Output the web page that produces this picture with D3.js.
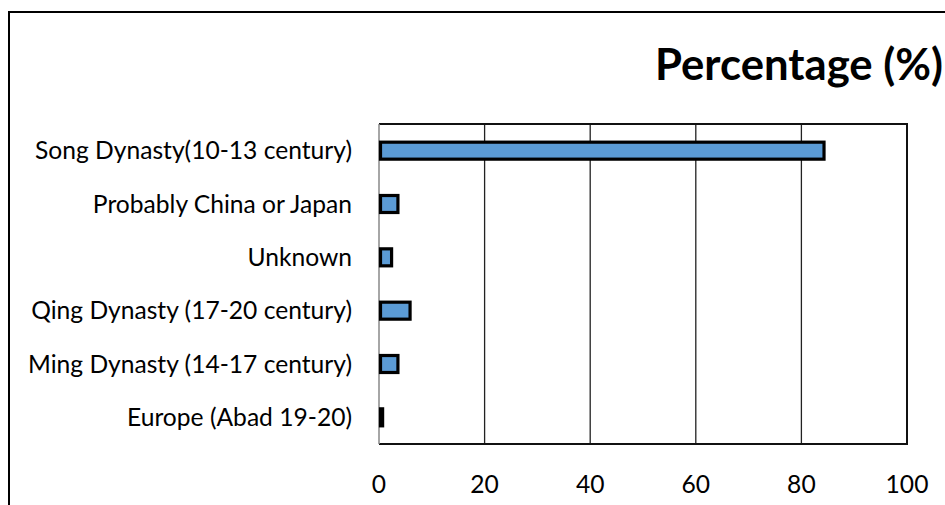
<!DOCTYPE html>
<html>
<script src="https://d3js.org/d3.v7.min.js"></script>
<style>
    body { margin: 0; background: #fff; }
    text { font-family: Lato, "Open Sans", sans-serif; fill: #000; }
</style>
<body>
<div id="chart"></div>
<script>
    // data (top to bottom)
    const categories = [
        "Song Dynasty(10-13 century)",
        "Probably China or Japan",
        "Unknown",
        "Qing Dynasty (17-20 century)",
        "Ming Dynasty (14-17 century)",
        "Europe (Abad 19-20)"
    ];
    const values = [84, 3.3, 2.1, 5.6, 3.3, 0.4];
    const xTicks = [0, 20, 40, 60, 80, 100];
    const title = "Percentage (%)";

    const width = 945, height = 505;
    const plot = { left: 379, right: 907, top: 124, bottom: 444 };

    const svg = d3.select("#chart").append("svg")
        .attr("width", width)
        .attr("height", height);

    // outer frame (cut off at right and bottom)
    svg.append("rect")
        .attr("x", 9).attr("y", 12)
        .attr("width", 980).attr("height", 520)
        .attr("fill", "none")
        .attr("stroke", "#000")
        .attr("stroke-width", 2);

    const x = d3.scaleLinear().domain([0, 100]).range([plot.left, plot.right]);
    const y = d3.scaleBand().domain(categories).range([plot.top, plot.bottom]);

    // vertical gridlines
    svg.append("g")
        .selectAll("line")
        .data(xTicks.slice(1, -1))
        .join("line")
        .attr("x1", d => x(d)).attr("x2", d => x(d))
        .attr("y1", plot.top).attr("y2", plot.bottom)
        .attr("stroke", "#222")
        .attr("stroke-width", 1.3);

    // plot border
    svg.append("path")
        .attr("d", `M${plot.left},${plot.top}H${plot.right}V${plot.bottom}H${plot.left}`)
        .attr("fill", "none")
        .attr("stroke", "#111")
        .attr("stroke-width", 2);
    svg.append("line")
        .attr("x1", plot.left).attr("x2", plot.left)
        .attr("y1", plot.top).attr("y2", plot.bottom)
        .attr("stroke", "#888")
        .attr("stroke-width", 1.5);

    // bars
    const barH = 17;
    svg.append("g")
        .selectAll("rect")
        .data(values)
        .join("rect")
        .attr("x", x(0) + 1.5)
        .attr("y", (d, i) => y(categories[i]) + y.bandwidth() / 2 - barH / 2)
        .attr("width", d => Math.max(0.5, x(d) - x(0)))
        .attr("height", barH)
        .attr("fill", "#5B9BD5")
        .attr("stroke", "#000")
        .attr("stroke-width", 3.2);

    // category labels
    const labels = svg.append("g")
        .selectAll("text")
        .data(categories)
        .join("text")
        .attr("x", 352)
        .attr("y", d => y(d) + y.bandwidth() / 2)
        .attr("dy", "0.35em")
        .attr("text-anchor", "end")
        .style("font-size", "20px")
        .text(d => d);

    // fit label size so the longest one spans ~317px like the reference
    const w0 = labels.nodes()[0].getComputedTextLength();
    labels.style("font-size", (20 * 317 / w0) + "px");
    const labelSize = 20 * 317 / w0;

    // x tick labels
    svg.append("g")
        .selectAll("text")
        .data(xTicks)
        .join("text")
        .attr("x", d => x(d))
        .attr("y", 484)
        .attr("dy", "0.35em")
        .attr("text-anchor", "middle")
        .style("font-size", labelSize + "px")
        .text(d => d);

    // title
    const t = svg.append("text")
        .attr("x", 943)
        .attr("y", 80)
        .attr("text-anchor", "end")
        .style("font-weight", "bold")
        .style("font-size", "30px")
        .text(title);
    const tw = t.node().getComputedTextLength();
    t.style("font-size", (30 * 288 / tw) + "px");
</script>
</body>
</html>
